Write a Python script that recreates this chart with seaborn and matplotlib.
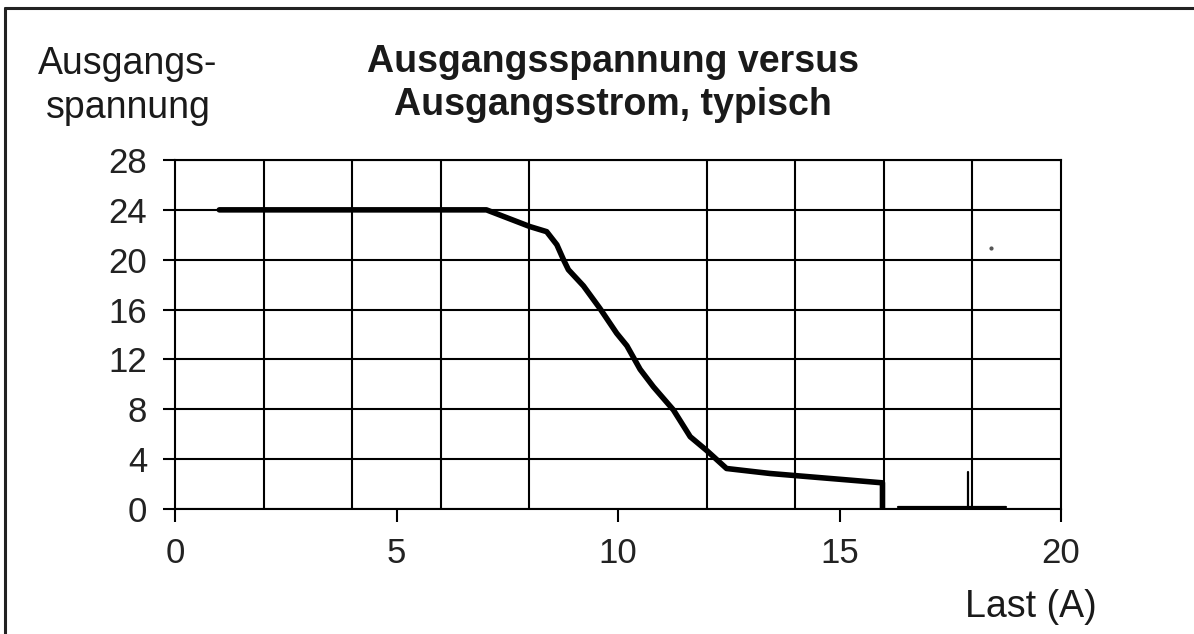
import matplotlib
matplotlib.use("Agg")
import pandas as pd
import seaborn as sns
import matplotlib.pyplot as plt
from matplotlib.lines import Line2D
from matplotlib.ticker import MultipleLocator

# main curve: output voltage vs load current
last_a = [1.0, 7.03, 8.01, 8.39, 8.62, 8.77, 8.88, 9.22, 9.59, 9.97, 10.2,
          10.5, 10.8, 11.25, 11.63, 12.0, 12.45, 13.43, 15.97, 15.97]
spannung = [24.0, 24.0, 22.66, 22.25, 21.2, 20.0, 19.2, 17.9, 16.1, 14.1, 13.1,
            11.2, 9.8, 7.95, 5.8, 4.7, 3.25, 2.85, 2.1, 0.0]

# thin trace after shutdown
rest_x = [16.32, 17.91, 18.76]
rest_y = [0.2, 0.2, 0.2]
stub_x = [17.9, 17.9]
stub_y = [0.2, 3.0]
speck_x = [18.43]
speck_y = [20.9]

x_ticks = [0, 5, 10, 15, 20]
y_ticks = [0, 4, 8, 12, 16, 20, 24, 28]

sns.set_theme(style="white")
plt.rcParams["font.family"] = ["Liberation Sans", "DejaVu Sans"]

fig = plt.figure(figsize=(11.94, 6.34), dpi=100)
ax = fig.add_axes([175 / 1194, 1 - 509 / 634, (1061 - 175) / 1194, (509 - 160) / 634])

main = pd.DataFrame({"Last": last_a, "U": spannung})
sns.lineplot(data=main, x="Last", y="U", sort=False, estimator=None,
             color="black", linewidth=4.0, ax=ax, zorder=5)
sns.lineplot(x=rest_x, y=rest_y, sort=False, estimator=None, color="black",
             linewidth=1.6, ax=ax, zorder=5)
sns.lineplot(x=stub_x, y=stub_y, sort=False, estimator=None, color="black",
             linewidth=1.6, ax=ax, zorder=6)
ax.scatter(speck_x, speck_y, s=4, color="#555555", zorder=5)

ax.set_xlim(0, 20)
ax.set_ylim(0, 28)
ax.set_xticks(x_ticks)
ax.set_yticks(y_ticks)
ax.xaxis.set_minor_locator(MultipleLocator(2))
ax.grid(False)
ax.grid(True, which="minor", axis="x", color="black", linewidth=1.5)
ax.grid(True, which="major", axis="y", color="black", linewidth=1.5)
ax.set_xlabel("")
ax.set_ylabel("")

ax.tick_params(axis="x", which="major", direction="out", length=9, width=1.5,
               color="black", pad=11, labelsize=25, labelcolor="#222222",
               bottom=True)
ax.tick_params(axis="x", which="minor", length=0)
ax.tick_params(axis="y", direction="out", length=9, width=1.5, color="black",
               pad=11, labelsize=25, labelcolor="#222222", left=True)
for s in ax.spines.values():
    s.set_color("black")
    s.set_linewidth(1.5)

fig.text(613 / 1194, 1 - 44 / 634, "Ausgangsspannung versus\nAusgangsstrom, typisch",
         ha="center", va="top", fontsize=27, fontweight="bold", color="#1a1a1a",
         linespacing=1.25)
fig.text(128 / 1194, 1 - 46 / 634, "Ausgangs-\nspannung", ha="center", va="top",
         fontsize=27, color="#1a1a1a", linespacing=1.3)
fig.text(1097 / 1194, 1 - 617 / 634, "Last (A)", ha="right", va="baseline",
         fontsize=27, color="#1a1a1a")

# scanned frame around the chart: left and top edges only
fig.add_artist(Line2D([5 / 1194, 5 / 1194], [0, 1 - 8 / 634],
                      transform=fig.transFigure, color="#222222", linewidth=2.2))
fig.add_artist(Line2D([5 / 1194, 1], [1 - 8 / 634, 1 - 8 / 634],
                      transform=fig.transFigure, color="#222222", linewidth=2.2))

fig.savefig("out.png", dpi=100)
